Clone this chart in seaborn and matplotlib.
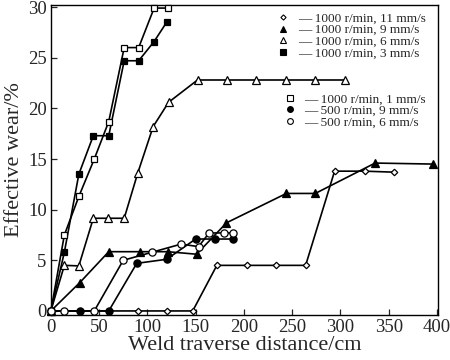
import matplotlib
matplotlib.use("Agg")
import matplotlib.pyplot as plt
from matplotlib.lines import Line2D
import pandas as pd
import seaborn as sns

# Effective wear vs weld traverse distance.
x_11 = [0, 90, 120, 147, 172, 203, 233, 264, 294, 325, 356]
y_11 = [0, 0, 0, 0, 4.5, 4.5, 4.5, 4.5, 13.8, 13.8, 13.7]

x_9 = [0, 30, 60, 92, 121, 151, 182, 244, 274, 336, 396]
y_9 = [0, 2.8, 5.85, 5.85, 5.85, 5.6, 8.7, 11.6, 11.6, 14.6, 14.5]

x_6 = [0, 14, 29, 44, 59, 76, 90, 106, 122, 152, 183, 213, 244, 274, 305]
y_6 = [0, 4.5, 4.45, 9.15, 9.15, 9.15, 13.6, 18.2, 20.6, 22.8, 22.8, 22.8, 22.8, 22.8, 22.8]

x_3 = [0, 14, 29, 44, 60, 76, 91, 107, 120]
y_3 = [0, 5.8, 13.5, 17.3, 17.3, 24.7, 24.7, 26.6, 28.5]

x_1 = [0, 14, 29, 45, 60, 76, 91, 107, 121]
y_1 = [0, 7.5, 11.3, 15.0, 18.7, 26.0, 26.0, 29.9, 29.9]

x_500_9 = [0, 30, 60, 89, 120, 150, 170, 189]
y_500_9 = [0, 0, 0, 4.7, 5.1, 7.1, 7.1, 7.1]

x_500_6 = [0, 14, 45, 75, 105, 135, 153, 164, 179, 189]
y_500_6 = [0, 0, 0, 5.0, 5.8, 6.6, 6.35, 7.7, 7.7, 7.7]

labels = [
    "1000 r/min, 11 mm/s",
    "1000 r/min, 9 mm/s",
    "1000 r/min, 6 mm/s",
    "1000 r/min, 3 mm/s",
    "1000 r/min, 1 mm/s",
    "500 r/min, 9 mm/s",
    "500 r/min, 6 mm/s",
]
xs = [x_11, x_9, x_6, x_3, x_1, x_500_9, x_500_6]
ys = [y_11, y_9, y_6, y_3, y_1, y_500_9, y_500_6]

# marker, face colour, size
STYLES = [
    ("D", "white", 3.3),
    ("^", "black", 5.2),
    ("^", "white", 5.2),
    ("s", "black", 5.0),
    ("s", "white", 5.0),
    ("o", "black", 5.2),
    ("o", "white", 5.2),
]

sns.set_style("ticks")
plt.rcParams["font.family"] = ["Liberation Serif", "DejaVu Serif"]

fig = plt.figure(figsize=(4.5, 3.6), dpi=100)
ax = fig.add_axes([0.113, 0.125, 0.86, 0.861])

for x, y, lab, (m, fc, ms) in zip(xs, ys, labels, STYLES):
    df = pd.DataFrame({"x": x, "y": y})
    sns.lineplot(data=df, x="x", y="y", ax=ax, color="black", lw=1.2,
                 marker=m, markerfacecolor=fc, markeredgecolor="black",
                 markeredgewidth=0.9, markersize=ms, sort=False,
                 estimator=None, legend=False, clip_on=False, zorder=3)

ax.set_xlim(0, 401)
ax.set_ylim(-0.4, 30.2)
ax.set_xticks(range(0, 401, 50))
ax.set_yticks(range(0, 31, 5))
ax.tick_params(direction="in", length=4, width=0.9, labelsize=13.5, pad=3)
for s in ax.spines.values():
    s.set_linewidth(1.0)
    s.set_color("black")
ax.set_xlabel("Weld traverse distance/cm", fontsize=16, labelpad=0)
ax.set_ylabel("Effective wear/%", fontsize=16, labelpad=3)


def make_handles(idx):
    hs = []
    for i in idx:
        m, fc, ms = STYLES[i]
        hs.append(Line2D([], [], ls="none", marker=m, markerfacecolor=fc,
                         markeredgecolor="black", markeredgewidth=0.8,
                         markersize=ms * 0.8))
    return hs


leg_kw = dict(frameon=False, fontsize=9.5, handlelength=1.2, handletextpad=0.48,
              labelspacing=-0.04, borderaxespad=0.0, loc="upper right")
leg1 = ax.legend(make_handles([0, 1, 2, 3]),
                 ["\u2014 " + labels[i] for i in [0, 1, 2, 3]],
                 bbox_to_anchor=(0.982, 0.994), **leg_kw)
ax.add_artist(leg1)
ax.legend(make_handles([4, 5, 6]),
          ["\u2014 " + labels[i] for i in [4, 5, 6]],
          bbox_to_anchor=(0.982, 0.733), **leg_kw)

fig.savefig("out.png", dpi=100)
